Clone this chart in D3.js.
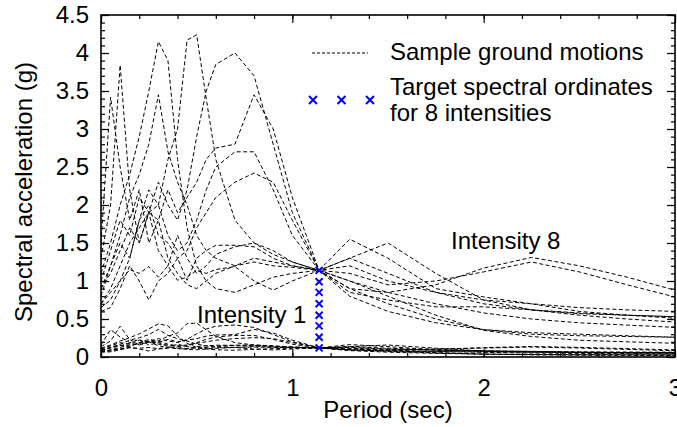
<!DOCTYPE html>
<html><head><meta charset="utf-8">
<script src="https://cdn.jsdelivr.net/npm/d3@7"></script>
<style>body{margin:0;background:#fff}svg text{font-family:"Liberation Sans",Arial,sans-serif;fill:#000}</style>
</head><body>
<svg id="c" width="677" height="427"></svg>
<script>
// ---- data ----
const periods = [0, 0.05, 0.1, 0.15, 0.2, 0.25, 0.3, 0.35, 0.4, 0.45, 0.5, 0.55, 0.6, 0.7, 0.8, 0.9, 1.0, 1.14, 1.3, 1.5, 1.75, 2.0, 2.25, 2.5, 2.75, 3.0];
// spectra of sample ground motions scaled to intensity 8 (Sa(1.14 s) = 1.14 g)
const gm01 = [0.9, 1.2, 1.5, 1.3, 1.8, 2.2, 2.0, 2.6, 3.0, 4.17, 4.24, 3.4, 2.6, 1.8, 1.5, 1.35, 1.25, 1.14, 1.3, 1.1, 0.85, 0.7, 0.62, 0.57, 0.55, 0.53];
const gm02 = [1.0, 1.4, 1.8, 1.6, 2.1, 1.9, 2.3, 2.0, 1.8, 2.2, 2.9, 3.5, 3.85, 4.0, 3.7, 2.8, 1.9, 1.14, 0.8, 0.6, 0.45, 0.36, 0.3, 0.28, 0.27, 0.26];
const gm03 = [1.1, 1.5, 2.0, 2.4, 2.9, 3.5, 4.15, 3.9, 2.6, 1.7, 1.2, 1.0, 0.9, 0.85, 0.95, 1.05, 1.1, 1.14, 1.0, 0.8, 0.55, 0.35, 0.27, 0.22, 0.2, 0.18];
const gm04 = [1.3, 2.0, 3.84, 2.2, 1.5, 1.9, 1.4, 1.2, 1.6, 1.3, 1.1, 1.2, 1.35, 1.45, 1.5, 1.4, 1.25, 1.14, 1.0, 0.85, 0.7, 0.58, 0.5, 0.45, 0.42, 0.39];
const gm05 = [1.5, 3.42, 2.5, 1.8, 2.2, 1.5, 1.8, 1.3, 1.1, 0.95, 0.9, 1.0, 1.1, 1.2, 1.25, 1.2, 1.18, 1.14, 1.2, 1.0, 0.85, 0.75, 0.62, 0.55, 0.5, 0.46];
const gm06 = [0.8, 1.2, 1.6, 2.1, 2.4, 2.8, 3.45, 2.7, 2.3, 2.0, 1.6, 1.4, 1.3, 1.2, 1.3, 1.25, 1.2, 1.14, 1.55, 1.3, 0.9, 0.79, 0.7, 0.6, 0.55, 0.51];
const gm07 = [0.7, 0.9, 1.2, 1.5, 1.7, 1.9, 1.8, 2.2, 1.9, 2.1, 2.3, 2.6, 2.75, 2.8, 3.45, 3.0, 2.1, 1.14, 0.9, 0.7, 0.5, 0.36, 0.32, 0.3, 0.28, 0.26];
const gm08 = [0.9, 1.1, 1.4, 1.7, 1.5, 1.9, 2.0, 1.6, 1.4, 1.5, 1.8, 2.2, 2.5, 2.7, 2.7, 2.2, 1.6, 1.14, 1.3, 1.5, 1.1, 0.75, 0.7, 0.65, 0.62, 0.6];
const gm09 = [0.65, 0.75, 1.0, 1.3, 1.8, 2.0, 1.6, 1.5, 1.3, 1.4, 1.7, 1.9, 2.1, 2.3, 2.42, 2.3, 1.8, 1.14, 0.85, 0.75, 0.66, 0.66, 0.62, 0.58, 0.55, 0.53];
const gm10 = [0.6, 0.65, 0.9, 1.2, 1.0, 0.75, 1.0, 1.1, 1.3, 1.01, 1.3, 1.4, 1.47, 1.47, 1.45, 1.3, 1.2, 1.14, 0.9, 0.85, 0.95, 1.17, 1.31, 1.2, 1.05, 0.88];
const gm11 = [0.7, 0.85, 1.0, 1.15, 1.1, 1.19, 1.05, 1.2, 1.01, 1.05, 1.14, 1.1, 1.15, 1.19, 1.0, 0.88, 1.0, 1.14, 1.1, 0.95, 1.0, 1.12, 1.25, 1.12, 0.95, 0.79];
const records = [gm01, gm02, gm03, gm04, gm05, gm06, gm07, gm08, gm09, gm10, gm11];
const targetPeriod = 1.14;
const targetSa = [0.12, 0.26, 0.41, 0.55, 0.70, 0.85, 0.99, 1.14];
const xTickValues = [0, 1, 2, 3];
const yTickValues = [0, 0.5, 1, 1.5, 2, 2.5, 3, 3.5, 4, 4.5];
const xMinor = d3.range(0, 3.0001, 0.2);
const yMinor = d3.range(0, 4.5001, 0.1);

// ---- layout ----
const L = 101, R = 675, T = 15, B = 357;
const svg = d3.select("#c");
const x = d3.scaleLinear().domain([0, 3]).range([L, R]);
const y = d3.scaleLinear().domain([0, 4.5]).range([B, T]);

svg.append("defs").append("clipPath").attr("id", "clip")
  .append("rect").attr("x", L).attr("y", T).attr("width", R - L).attr("height", B - T);

// ground motion curves: intensity 8 and the same records scaled to intensity 1
const low = targetSa[0] / targetSa[targetSa.length - 1];
const curves = records.concat(records.map(r => r.map(v => v * low)));
const line = d3.line().x((d, i) => x(periods[i])).y(d => y(d));
svg.append("g").attr("clip-path", "url(#clip)")
  .selectAll("path").data(curves).join("path")
  .attr("d", line).attr("fill", "none").attr("stroke", "#000")
  .attr("stroke-width", 1).attr("stroke-dasharray", "4,2.5");

// axes with inward ticks on all four sides
function axisG(gen, tr) {
  const g = svg.append("g").attr("transform", tr).call(gen);
  g.select(".domain").remove();
  g.selectAll(".tick line").attr("stroke", "#000").attr("stroke-width", 1.2);
  return g;
}
axisG(d3.axisBottom(x).tickValues(xMinor).tickSize(-4).tickFormat(""), `translate(0,${B})`);
axisG(d3.axisTop(x).tickValues(xMinor).tickSize(-4).tickFormat(""), `translate(0,${T})`);
axisG(d3.axisLeft(y).tickValues(yMinor).tickSize(-4).tickFormat(""), `translate(${L},0)`);
axisG(d3.axisRight(y).tickValues(yMinor).tickSize(-4).tickFormat(""), `translate(${R},0)`);
const gx = axisG(d3.axisBottom(x).tickValues(xTickValues).tickSize(-8).tickPadding(22).tickFormat(d3.format("d")), `translate(0,${B})`);
axisG(d3.axisTop(x).tickValues(xTickValues).tickSize(-8).tickFormat(""), `translate(0,${T})`);
const gy = axisG(d3.axisLeft(y).tickValues(yTickValues).tickSize(-8).tickPadding(12).tickFormat(d => String(d)), `translate(${L},0)`);
axisG(d3.axisRight(y).tickValues(yTickValues).tickSize(-8).tickFormat(""), `translate(${R},0)`);
gx.selectAll("text").attr("font-size", 24).attr("font-family", null).attr("fill", "#000");
gy.selectAll("text").attr("font-size", 24).attr("font-family", null).attr("fill", "#000");

svg.append("rect").attr("x", L).attr("y", T).attr("width", R - L).attr("height", B - T)
  .attr("fill", "none").attr("stroke", "#000").attr("stroke-width", 1.6);

// target crosses
function cross(g, cx, cy, h) {
  g.append("path").attr("d", `M${cx - h},${cy - h}L${cx + h},${cy + h}M${cx - h},${cy + h}L${cx + h},${cy - h}`)
    .attr("stroke", "#0000ff").attr("stroke-width", 2).attr("fill", "none");
}
const cg = svg.append("g");
targetSa.forEach(v => cross(cg, x(targetPeriod), y(v), 3.5));

// axis titles
svg.append("text").attr("x", (L + R) / 2).attr("y", 418).attr("text-anchor", "middle")
  .attr("font-size", 24).text("Period (sec)");
svg.append("text").attr("transform", "translate(32,192) rotate(-90)").attr("text-anchor", "middle")
  .attr("font-size", 24).text("Spectral acceleration (g)");

// annotations
svg.append("text").attr("x", 197).attr("y", 323).attr("font-size", 24).text("Intensity 1");
svg.append("text").attr("x", 451).attr("y", 249).attr("font-size", 24).text("Intensity 8");

// legend
svg.append("line").attr("x1", 312).attr("x2", 368).attr("y1", 53).attr("y2", 53)
  .attr("stroke", "#000").attr("stroke-width", 1).attr("stroke-dasharray", "3,2");
svg.append("text").attr("x", 390).attr("y", 60).attr("font-size", 24).text("Sample ground motions");
const lg = svg.append("g");
[313, 341.5, 370].forEach(cx => cross(lg, cx, 100, 4));
svg.append("text").attr("x", 390).attr("y", 95).attr("font-size", 24).text("Target spectral ordinates");
svg.append("text").attr("x", 390).attr("y", 121).attr("font-size", 24).text("for 8 intensities");
</script>
</body></html>
